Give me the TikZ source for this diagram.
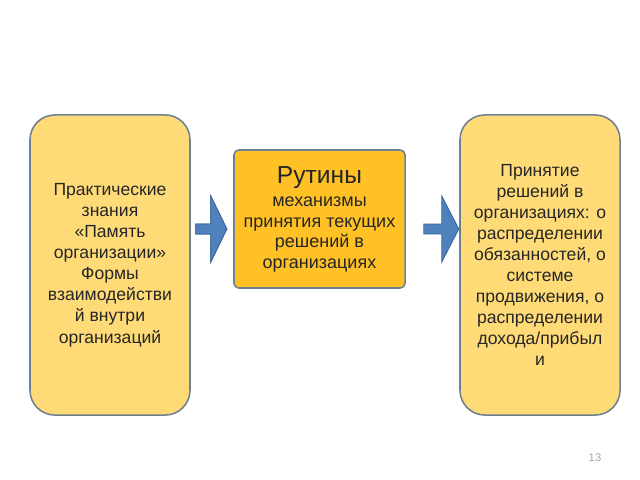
\documentclass[tikz,border=0pt]{standalone}
\usepackage{fontspec}
\setmainfont{Liberation Sans}
\usepackage{tikz}
\usetikzlibrary{calc}

\definecolor{boxlight}{HTML}{FFDB78}
\definecolor{boxgold}{HTML}{FFC125}
\definecolor{boxedge}{HTML}{6E7F90}
\definecolor{arrblue}{HTML}{4F81BD}
\definecolor{arredge}{HTML}{3B679C}
\definecolor{txtgrey}{HTML}{262626}

\tikzset{
  sidebox/.style={draw=boxedge,line width=1.1pt,fill=boxlight,rounded corners=0.62cm,
    minimum width=4cm,minimum height=7.5cm,align=center,text=txtgrey,
    font=\fontsize{12.5}{15}\selectfont},
  midbox/.style={draw=boxedge,line width=1.1pt,fill=boxgold,rounded corners=0.12cm,
    minimum width=4.275cm,minimum height=3.45cm,align=center,text=txtgrey,
    font=\fontsize{12.8}{14.6}\selectfont},
  blockarr/.style={fill=arrblue,draw=arredge,line width=0.6pt,line join=miter}
}

\begin{document}
\begin{tikzpicture}[x=0.025cm,y=-0.025cm]
    \useasboundingbox (0,0) rectangle (640,480);
    \node[sidebox] (prak) at (110,265) {Практические\\знания\\«Память\\организации»\\Формы\\взаимодействи\\й внутри\\организаций};
    \node[midbox] (rut) at (319.5,219) {{\fontsize{17.5}{22}\selectfont Рутины}\\[2pt]механизмы\\принятия текущих\\решений в\\организациях};
    \node[sidebox] (prin) at (540,265) {Принятие\\решений в\\организациях: о\\распределении\\обязанностей, о\\системе\\продвижения, о\\распределении\\дохода/прибыл\\и};
    %
    \coordinate (a1) at ($(prak.east)+(5,-36)$);
    \fill[blockarr] (a1) ++(0,-5) -- ++(15,0) -- ++(0,-28) -- ++(16,33) -- ++(-16,33) -- ++(0,-28) -- ++(-15,0) -- cycle;
    \draw[blockarr] (a1) ++(0,-5) -- ++(15,0) -- ++(0,-28) -- ++(16,33) -- ++(-16,33) -- ++(0,-28) -- ++(-15,0) -- cycle;
    \coordinate (a2) at ($(rut.east)+(18,10)$);
    \draw[blockarr] (a2) ++(0,-5) -- ++(18,0) -- ++(0,-28) -- ++(17,33) -- ++(-17,33) -- ++(0,-28) -- ++(-18,0) -- cycle;
    %
    \node[text=gray!70,font=\fontsize{8}{9}\selectfont] (pnum) at (595,458) {13};
\end{tikzpicture}
\end{document}
